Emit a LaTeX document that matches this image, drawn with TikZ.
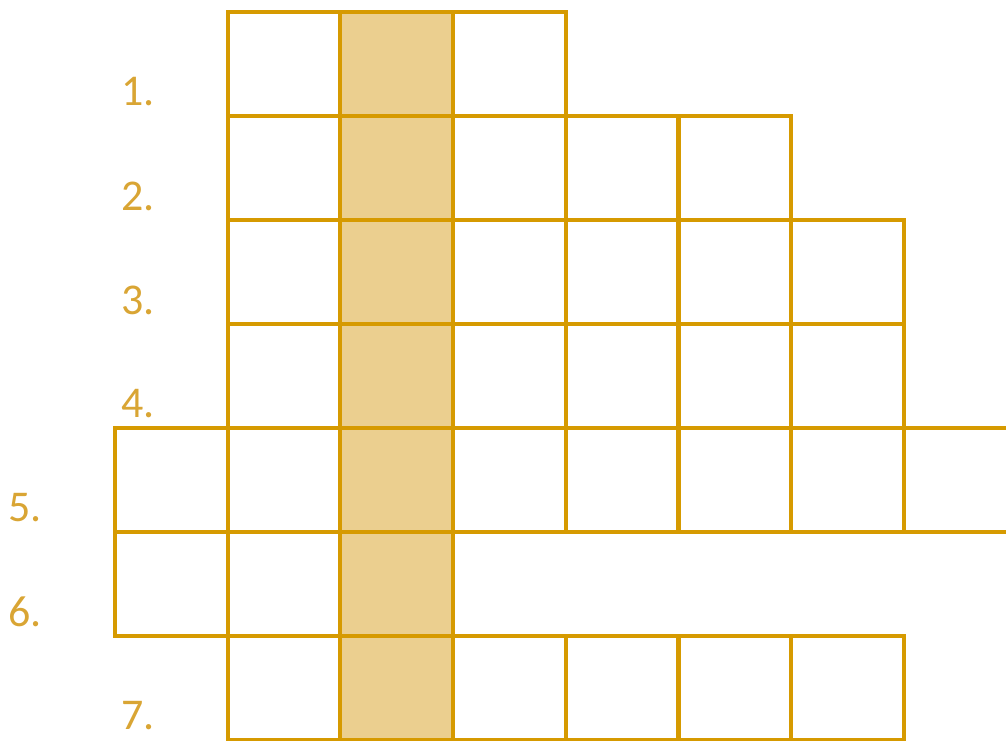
\documentclass[tikz,border=0pt]{standalone}
\usepackage{fontspec}
\setmainfont{Carlito}
\usepackage{xcolor}
\usetikzlibrary{positioning}
\definecolor{gold}{HTML}{D69A00}
\definecolor{goldbg}{HTML}{EBCF8F}
\definecolor{goldtext}{HTML}{D9A534}
\tikzset{
    cell/.style={rectangle, draw=gold, line width=2.3pt, fill=white,
                 minimum width=2.254cm, minimum height=2.08cm,
                 inner sep=0pt, outer sep=0pt},
    keycell/.style={cell, fill=goldbg},
    num/.style={font=\fontsize{25}{30}\selectfont, text=goldtext,
                anchor=west, inner sep=0pt},
}
\begin{document}
\begin{tikzpicture}[x=0.02cm, y=-0.02cm]

  \useasboundingbox (0,0) rectangle (1006,740);
  \clip (0,0) rectangle (1006,740);

  % rows: number / first column / last column
  \foreach \r/\first/\last in {1/1/3, 2/1/5, 3/1/6, 4/1/6, 5/0/7, 6/0/2, 7/1/6} {
    \foreach \c in {\first,...,\last} {
      \ifnum\c=2
        \node[keycell] (c\r-\c) at ({115+112.7*(\c+0.5)},{12+104*(\r-0.5)}) {};
      \else
        \node[cell] (c\r-\c) at ({115+112.7*(\c+0.5)},{12+104*(\r-0.5)}) {};
      \fi
    }
    \node[num] (n\r) at ({115+112.7*\first-107},{12+104*\r-24}) {\r.};
  }

\end{tikzpicture}
\end{document}
